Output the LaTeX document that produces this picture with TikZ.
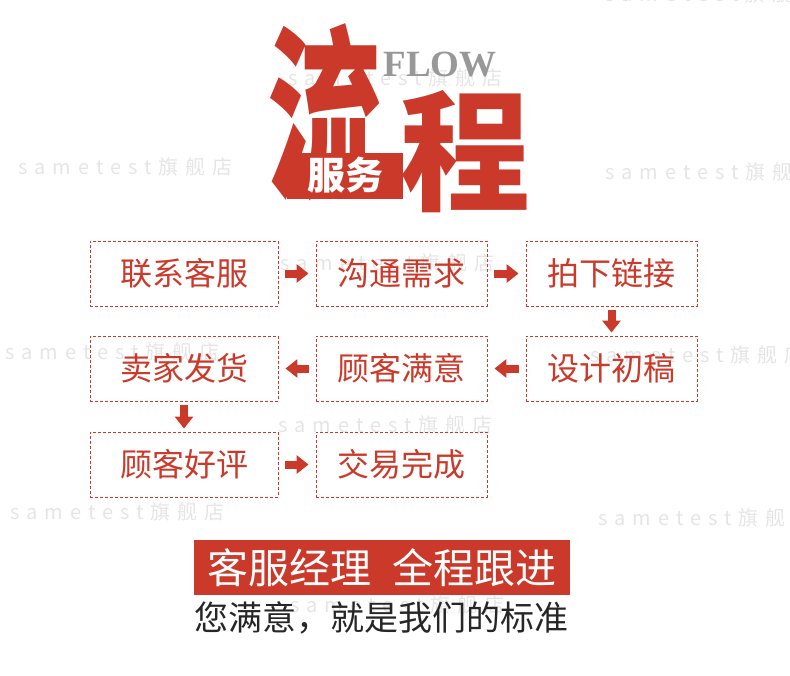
\documentclass[tikz,border=0pt]{standalone}
\usepackage{fontspec}
\setmainfont{Noto Sans CJK SC}
\newfontfamily\markfont[LetterSpace=35]{Noto Sans CJK SC}
\newfontfamily\flowfont{Liberation Serif}
\usetikzlibrary{arrows.meta}
\definecolor{flowred}{RGB}{203,57,42}
\definecolor{flowgray}{RGB}{152,152,152}
\definecolor{markgray}{RGB}{229,229,229}

\begin{document}
\begin{tikzpicture}[x=1pt,y=-1pt,
  stepbox/.style={draw=flowred,dash pattern=on 3pt off 2pt,line width=0.9pt,minimum height=65pt,inner sep=0pt,text=flowred,font=\fontsize{32}{32}\selectfont},
  flowarrow/.style={flowred,line width=8pt,-{Triangle[length=12pt,width=18pt]}}]
  \useasboundingbox (0,0) rectangle (790,675);
  \foreach \x/\y in {605/-6,288/78,18/167,605/172,280/263,5/352,590/355,278/425,10/512,598/518,290/605}{
    \node[anchor=west,inner sep=0pt,text=markgray,font=\markfont\fontsize{20}{20}\selectfont] (wm-\x-\y) at (\x,\y) {sametest旗舰店};
  }
  \node[inner sep=0pt,text=flowred,font=\bfseries\fontsize{125}{125}\selectfont] (liu) at (325,112) {\scalebox{0.92}[1.5]{流}};
  \node[inner sep=0pt,text=flowred,font=\bfseries\fontsize{130}{130}\selectfont] (cheng) at (465,152) {程};
  \node[inner sep=0pt,text=flowgray,font=\flowfont\bfseries\fontsize{37}{37}\selectfont] (flow) at (440,65) {FLOW};
  \node[fill=flowred,text=white,minimum width=116pt,minimum height=46pt,inner sep=0pt,font=\bfseries\fontsize{38}{38}\selectfont] (fuwu) at (345,175.5) {服务};
  \foreach \n/\x/\y/\w/\t in {lxkf/184/273.5/188/联系客服,gtxq/401.5/273.5/171/沟通需求,pxlj/611.5/273.5/171/拍下链接,
    sjcg/611.5/368.5/171/设计初稿,gkmy/401.5/368.5/171/顾客满意,mjfh/184/368.5/188/卖家发货,
    gkhp/184/464.5/188/顾客好评,jywc/401.5/464.5/171/交易完成}{
    \node[stepbox,minimum width=\w pt] (\n) at (\x,\y) {\t};
  }
  \foreach \a/\b in {lxkf/gtxq,gtxq/pxlj,sjcg/gkmy,gkmy/mjfh,gkhp/jywc}
    \draw[flowarrow,shorten <=7pt,shorten >=7pt] (\a) -- (\b);
  \foreach \a/\b in {pxlj/sjcg,mjfh/gkhp}
    \draw[flowarrow,shorten <=4pt,shorten >=3pt] (\a) -- (\b);
  \node[fill=flowred,text=white,minimum width=376pt,minimum height=55pt,inner sep=0pt,font=\fontsize{41}{41}\selectfont] (bar) at (382,567.5) {客服经理\hspace{0.5em}全程跟进};
  \node[inner sep=0pt,text=black!85,font=\fontsize{34}{34}\selectfont] (motto) at (381,618) {您满意，就是我们的标准};
\end{tikzpicture}
\end{document}
